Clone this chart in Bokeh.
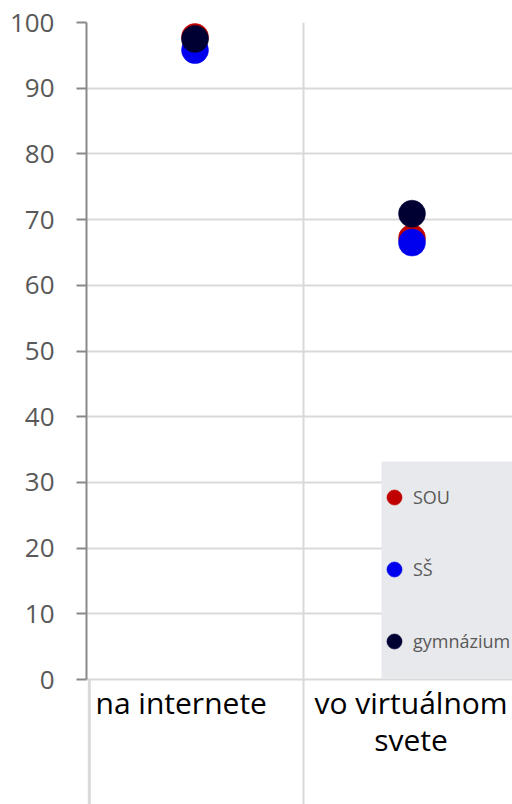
from bokeh.plotting import figure
from bokeh.models import (Range1d, FixedTicker, Legend, LegendItem, BoxAnnotation,
                          ColumnDataSource)
from bokeh.embed import file_html
from bokeh.resources import INLINE
from bokeh.core.properties import value

categories = ["na internete", "vo virtuálnom svete"]
series_names = ["SOU", "SŠ", "gymnázium"]
sou = [97.8, 67.2]
ss = [95.8, 66.5]
gym = [97.5, 70.9]
y_ticks = [0, 10, 20, 30, 40, 50, 60, 70, 80, 90, 100]
colors = ["#C00000", "#0000EE", "#000033"]

FONT = "Open Sans"
px_per_unit = 6.57
y_bottom = -(804 - 679) / px_per_unit
x_end = 426 / 217.0

p = figure(width=512, height=804, output_backend="svg", toolbar_location=None,
           x_range=Range1d(0, x_end), y_range=Range1d(y_bottom, 100),
           min_border_left=86, min_border_right=0, min_border_top=22,
           min_border_bottom=0)
p.outline_line_color = None
p.background_fill_color = "white"
p.border_fill_color = "white"

# axes
p.xaxis.visible = False
yax = p.yaxis[0]
yax.ticker = FixedTicker(ticks=y_ticks)
yax.bounds = (0, 100)
yax.axis_line_color = "#898989"
yax.axis_line_width = 2
yax.major_tick_line_color = "#898989"
yax.major_tick_line_width = 2
yax.major_tick_out = 10
yax.major_tick_in = 0
yax.minor_tick_line_color = None
yax.major_label_standoff = 22
yax.major_label_text_font = FONT
yax.major_label_text_font_size = "26px"
yax.major_label_text_color = "#595959"

# grids
p.ygrid.ticker = FixedTicker(ticks=y_ticks)
p.ygrid.grid_line_color = "#D9D9D9"
p.ygrid.grid_line_width = 2
p.xgrid.ticker = FixedTicker(ticks=[1])
p.xgrid.grid_line_color = "#D9D9D9"
p.xgrid.grid_line_width = 2

# category table lines (left border)
p.segment(x0=[0.013], y0=[0], x1=[0.013], y1=[y_bottom], line_color="#D9D9D9", line_width=3)

# category labels (wrapped like the reference)
xs = [i + 0.5 for i in range(len(categories))]
line1_y = -3.5
line2_y = -9.13
lab1 = ColumnDataSource(dict(x=[0.0], y=[line1_y], t=[categories[0]]))
p.text(x="x", y="y", text="t", source=lab1, text_align="left", text_baseline="alphabetic",
       x_offset=9, text_font=value(FONT), text_font_size="30px", text_color="black")
words = categories[1].rsplit(" ", 1)
lab2 = ColumnDataSource(dict(x=[xs[1], xs[1]], y=[line1_y, line2_y], t=words))
p.text(x="x", y="y", text="t", source=lab2, text_align="center", text_baseline="alphabetic",
       x_offset=-1, text_font=value(FONT), text_font_size="30px", text_color="black")

# data
rs = []
for name, vals, c in zip(series_names, [sou, ss, gym], colors):
    src = ColumnDataSource(dict(x=xs, y=vals))
    r = p.scatter(x="x", y="y", source=src, size=27, marker="circle",
                  fill_color=c, line_color=c, line_width=0.5)
    rs.append((name, r))

# legend background
box = BoxAnnotation(left=(381 - 86) / 217.0, bottom=0.15, top=(679 - 461) / px_per_unit,
                    fill_color="#E8E9EC", fill_alpha=1, line_color=None)
p.add_layout(box)

legend = Legend(items=[LegendItem(label=n, renderers=[r]) for n, r in rs],
                location=(289, 144.3), orientation="vertical",
                glyph_width=38, glyph_height=38, spacing=34, padding=0, margin=0,
                label_standoff=0, label_text_font=FONT, label_text_font_size="18px",
                label_text_color="#595959", background_fill_alpha=0,
                border_line_color=None)
p.add_layout(legend)

open("out.html", "w").write(file_html(p, INLINE))
